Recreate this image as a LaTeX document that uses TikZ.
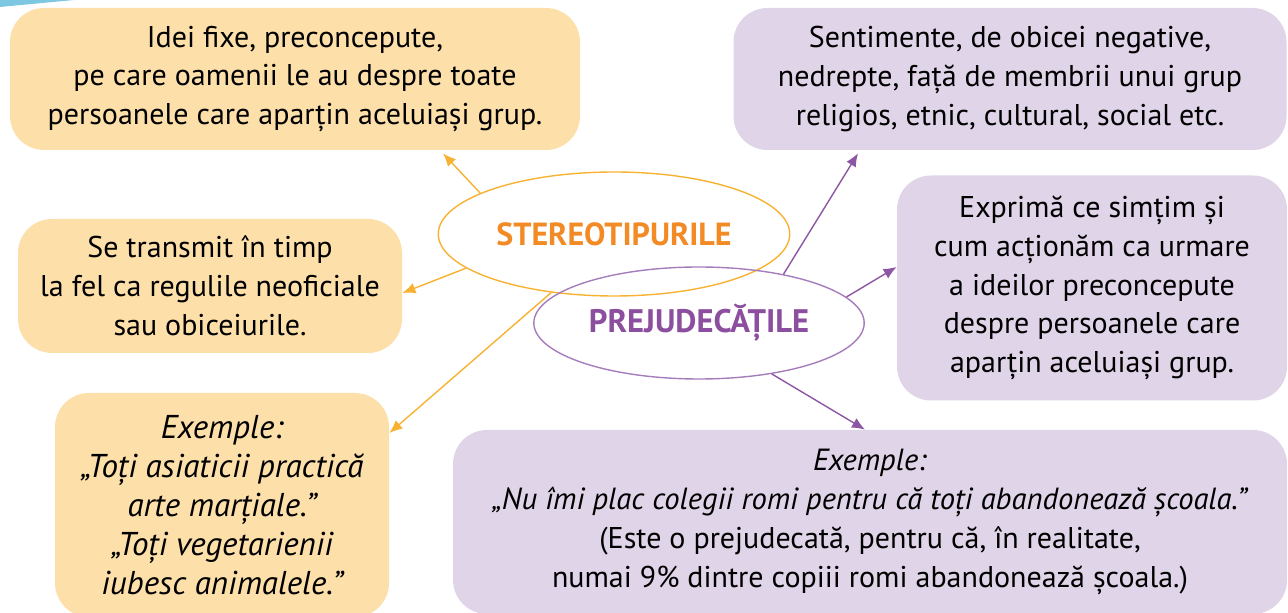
\documentclass[tikz,border=0pt]{standalone}
\usepackage{fontspec}
\setmainfont{PT Sans}
\usetikzlibrary{shapes.geometric,arrows.meta}
\definecolor{stfill}{HTML}{FDDFAA}
\definecolor{prfill}{HTML}{E0D4E8}
\definecolor{sttext}{HTML}{F28A25}
\definecolor{prtext}{HTML}{8C4E9E}
\definecolor{stline}{HTML}{F7B232}
\definecolor{prline}{HTML}{8D56A4}
\definecolor{prring}{HTML}{A57DBA}
\definecolor{topblue}{HTML}{7DC7E2}

\begin{document}
\begin{tikzpicture}[x=0.5pt,y=-0.5pt,
	txt/.style={font=\fontsize{15}{19.4}\selectfont,align=center,inner sep=0pt},
	stbox/.style={txt,rectangle,rounded corners=17pt,fill=stfill},
	prbox/.style={txt,rectangle,rounded corners=17pt,fill=prfill},
	starrow/.style={draw=stline,line width=0.7pt,-{Latex[length=6.5pt,width=5.5pt]}},
	prarrow/.style={draw=prline,line width=0.7pt,-{Latex[length=6.5pt,width=5.5pt]}}]
		\clip (0,0) rectangle (1288,613);
		\fill[topblue] (0,0) -- (74,0) -- (0,7) -- cycle;
		\node[stbox,minimum width=285pt,minimum height=71pt] (idei) at (295,79)
		{Idei fixe, preconcepute,\\ pe care oamenii le au despre toate\\ persoanele care aparțin aceluiași grup.};
		\node[stbox,minimum width=192pt,minimum height=67pt] (transmit) at (210,286)
		{Se transmit în timp\\ la fel ca regulile neoficiale\\ sau obiceiurile.};
		\node[stbox,minimum width=167pt,minimum height=112pt,font=\itshape\fontsize{16.5}{19.5}\selectfont] (exst) at (222,505)
		{Exemple:\\ „Toți asiaticii practică\\ arte marțiale.”\\ „Toți vegetarienii\\ iubesc animalele.”};
		\node[prbox,minimum width=276.5pt,minimum height=71pt] (sentim) at (1010,79)
		{Sentimente, de obicei negative,\\ nedrepte, față de membrii unui grup\\ religios, etnic, cultural, social etc.};
		\node[prbox,minimum width=195pt,minimum height=112.5pt] (exprima) at (1092,288)
		{Exprimă ce simțim și\\ cum acționăm ca urmare\\ a ideilor preconcepute\\ despre persoanele care\\ aparțin aceluiași grup.};
		\node[prbox,minimum width=417pt,minimum height=92pt] (expr) at (870,522)
		{\textit{\fontsize{15.3}{19.4}\selectfont Exemple:}\\ \textit{\fontsize{15.3}{19.4}\selectfont „Nu îmi plac colegii romi pentru că toți abandonează școala.”}\\ (Este o prejudecată, pentru că, în realitate,\\ numai 9\% dintre copiii romi abandonează școala.)};
		\node[ellipse,draw=stline,line width=0.7pt,minimum width=154pt,minimum height=62pt,
		text=sttext,font=\bfseries\fontsize{16}{19}\selectfont] (stereo) at (614,234) {STEREOTIPURILE};
		\node[ellipse,draw=prring,line width=0.7pt,minimum width=147pt,minimum height=56pt,
		text=prtext,font=\bfseries\fontsize{16.3}{19}\selectfont] (prej) at (699,323) {PREJUDECĂȚILE};
		\draw[starrow] (stereo.163) -- ([xshift=74pt,yshift=-1.5pt]idei.south);
		\draw[starrow] (stereo.193) -- ([yshift=-3.5pt]transmit.east);
		\draw[starrow] (stereo.223) -- ([yshift=36pt]exst.east);
		\draw[prarrow] (prej.30) -- ([xshift=-76pt,yshift=-1.5pt]sentim.south);
		\draw[prarrow] (prej.10) -- ([yshift=10.5pt]exprima.west);
		\draw[prarrow] (prej.325) -- ([xshift=-2.5pt]expr.north);
\end{tikzpicture}
\end{document}
